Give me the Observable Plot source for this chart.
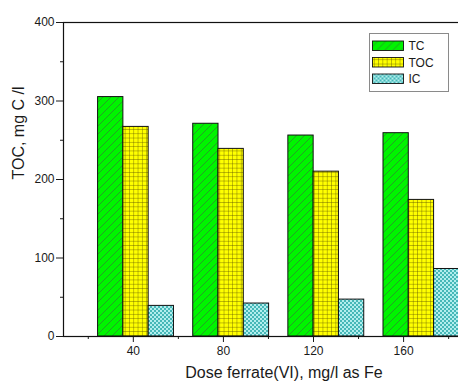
<!DOCTYPE html>
<html>
<head>
<meta charset="utf-8">
<script src="https://cdn.jsdelivr.net/npm/d3@7"></script>
<script src="https://cdn.jsdelivr.net/npm/@observablehq/plot@0.6"></script>
<style>
  html, body { margin: 0; padding: 0; background: #fff; overflow: hidden; width: 458px; height: 388px; }
  #chart { width: 458px; height: 388px; overflow: hidden; }
  #chart svg { max-width: none !important; display: block; }
</style>
</head>
<body>
<div id="chart"></div>
<script>
// Carbon fractions measured after ferrate(VI) dosing
const doses = [40, 80, 120, 160];
const seriesNames = ["TC", "TOC", "IC"];
const tcValues = [305, 271, 256, 259];
const tocValues = [267, 239, 210, 174];
const icValues = [39, 42, 47, 86];

const yTicks = [0, 100, 200, 300, 400];
const yMinorTicks = [50, 150, 250, 350];
const xTicks = [40, 80, 120, 160];
const xMinorTicks = [20, 60, 100, 140, 180];
const yLabel = "TOC, mg C /l";
const xLabel = "Dose ferrate(VI), mg/l as Fe";

const valuesBySeries = {TC: tcValues, TOC: tocValues, IC: icValues};
const fills = {TC: "url(#hatch-tc)", TOC: "url(#grid-toc)", IC: "url(#cross-ic)"};

const rows = seriesNames.flatMap((series, k) =>
  doses.map((dose, i) => ({series, k, dose, value: valuesBySeries[series][i]}))
);

// Column groups sit on a slot grid slightly wider than the dose ticks;
// the middle column of each group is centred on slot(dose).
const barW = 11.23;
const slot = dose => 41.2 + (dose - 40) * 1.056;
const left = d => slot(d.dose) + (d.k - 1.5) * barW;
const right = d => left(d) + barW;

// Fill patterns: diagonal hatch, square grid and dense cross-hatch
function patterns() {
  const defs = d3.create("svg:defs");

  const tc = defs.append("pattern").attr("id", "hatch-tc")
    .attr("patternUnits", "userSpaceOnUse").attr("width", 8).attr("height", 8);
  tc.append("rect").attr("width", 8).attr("height", 8).attr("fill", "#00f400");
  tc.append("path").attr("d", "M0,8 L8,0 M-2,2 L2,-2 M6,10 L10,6")
    .attr("stroke", "#2f8a2f").attr("stroke-width", 0.8).attr("fill", "none");

  const toc = defs.append("pattern").attr("id", "grid-toc")
    .attr("patternUnits", "userSpaceOnUse").attr("width", 4.3).attr("height", 4.3);
  toc.append("rect").attr("width", 4.3).attr("height", 4.3).attr("fill", "#ffff00");
  toc.append("path").attr("d", "M0,0 H4.3 M0,0 V4.3")
    .attr("stroke", "#5a5000").attr("stroke-width", 0.75).attr("fill", "none");

  const ic = defs.append("pattern").attr("id", "cross-ic")
    .attr("patternUnits", "userSpaceOnUse").attr("width", 4).attr("height", 4);
  ic.append("rect").attr("width", 4).attr("height", 4).attr("fill", "#b2eeee");
  ic.append("rect").attr("x", 0).attr("y", 0).attr("width", 2).attr("height", 2).attr("fill", "#46b8b8");
  ic.append("rect").attr("x", 2).attr("y", 2).attr("width", 2).attr("height", 2).attr("fill", "#46b8b8");

  return defs.node();
}

// Boxed legend in the upper right of the plot area
function legend() {
  const g = d3.create("svg:g").attr("transform", "translate(369.5,33.5)");
  g.append("rect").attr("width", 79).attr("height", 58)
    .attr("fill", "white").attr("stroke", "#8a8a8a").attr("stroke-width", 1);
  seriesNames.forEach((name, i) => {
    const y = 7.5 + i * 16.5;
    g.append("rect").attr("x", 3).attr("y", y).attr("width", 31).attr("height", 9.5)
      .attr("fill", fills[name]).attr("stroke", "#111").attr("stroke-width", 0.9);
    g.append("text").attr("x", 39).attr("y", y + 4.75).attr("dy", "0.36em")
      .attr("text-anchor", "start")
      .attr("font-size", 12).attr("fill", "#1a1a1a").text(name);
  });
  return g.node();
}

const chart = Plot.plot({
  width: 504,
  height: 388,
  marginLeft: 63,
  marginRight: 0,
  marginTop: 22,
  marginBottom: 52,
  style: {fontFamily: "'Liberation Sans', Arial, sans-serif", fontSize: "12px", color: "#1a1a1a", background: "white", maxWidth: "none"},
  x: {domain: [9, 204.8]},
  y: {domain: [0, 400]},
  marks: [
    patterns,
    ...seriesNames.map(name =>
      Plot.rect(rows.filter(d => d.series === name), {
        x1: left, x2: right, y1: () => 0, y2: "value",
        fill: fills[name], stroke: "#111", strokeWidth: 1
      })
    ),
    Plot.axisY({ticks: yTicks, tickSize: 7, tickPadding: 2, label: null, fontSize: 12}),
    Plot.axisY({ticks: yMinorTicks, tickSize: 3, tickFormat: () => "", label: null}),
    Plot.axisX({ticks: xTicks, tickSize: 6, tickPadding: 4, label: null, fontSize: 12}),
    Plot.axisX({ticks: xMinorTicks, tickSize: 3, tickFormat: () => "", label: null}),
    Plot.frame({stroke: "#111", strokeWidth: 1.2}),
    Plot.text([xLabel], {frameAnchor: "bottom", dy: 41, fontSize: 16, fill: "#1a1a1a"}),
    Plot.text([yLabel], {frameAnchor: "left", dx: -45, rotate: -90, fontSize: 16, fill: "#1a1a1a"}),
    legend
  ]
});

document.getElementById("chart").append(chart);
</script>
</body>
</html>
